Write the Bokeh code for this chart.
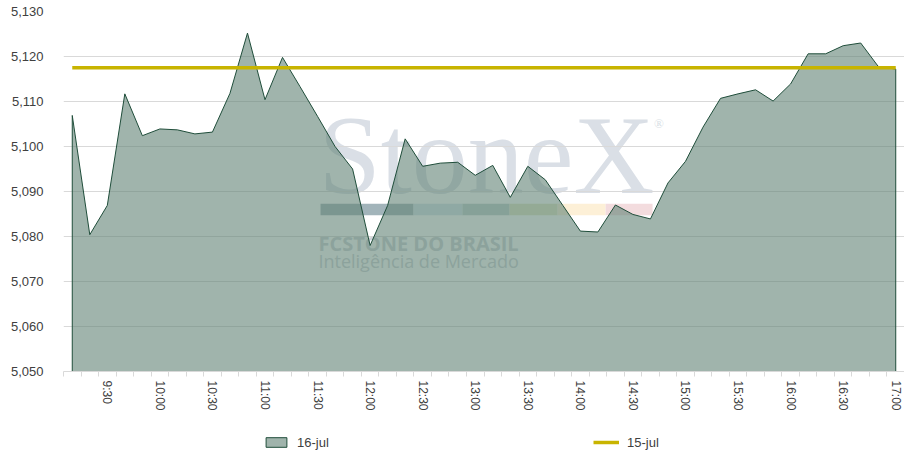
'''
dolar comercial intraday 16-jul vs fechamento 15-jul
'''
from bokeh.plotting import figure
from bokeh.layouts import column
from bokeh.models import (Range1d, FixedTicker, SingleIntervalTicker,
                          NumeralTickFormatter, Legend, LegendItem, Label, BoxAnnotation)
from bokeh.embed import file_html
from bokeh.resources import INLINE

times = ["9:10", "9:20", "9:30", "9:40", "9:50",
         "10:00", "10:10", "10:20", "10:30", "10:40", "10:50",
         "11:00", "11:10", "11:20", "11:30", "11:40", "11:50",
         "12:00", "12:10", "12:20", "12:30", "12:40", "12:50",
         "13:00", "13:10", "13:20", "13:30", "13:40", "13:50",
         "14:00", "14:10", "14:20", "14:30", "14:40", "14:50",
         "15:00", "15:10", "15:20", "15:30", "15:40", "15:50",
         "16:00", "16:10", "16:20", "16:30", "16:40", "16:50",
         "17:00"]

jul16 = [5106.9, 5080.4, 5086.9, 5111.7, 5102.4,
         5103.9, 5103.7, 5102.8, 5103.2, 5111.8, 5125.2,
         5110.4, 5119.8, 5113.3, 5106.7, 5100.0, 5095.0,
         5078.0, 5086.9, 5101.7, 5095.6, 5096.3, 5096.5,
         5093.6, 5095.8, 5088.7, 5095.6, 5092.6, 5086.9,
         5081.2, 5081.0, 5087.0, 5084.9, 5083.9, 5091.9,
         5096.7, 5104.3, 5110.7, 5111.7, 5112.6, 5110.1,
         5113.9, 5120.6, 5120.6, 5122.4, 5123.0, 5117.8,
         5117.2]

jul15_close = 5117.5

tick_labels = ["9:30", "10:00", "10:30", "11:00", "11:30", "12:00", "12:30", "13:00",
               "13:30", "14:00", "14:30", "15:00", "15:30", "16:00", "16:30", "17:00"]

y_min, y_max = 5050, 5130

FONT = "Liberation Sans"
TXT = "#404040"
GRID = "#d9d9d9"
FILL = "#618275"
LINE = "#1f4d3a"
YELLOW = "#c8b400"

# cada horario ocupa uma faixa de largura 1, o ponto fica no meio
xs = [i + 0.5 for i in range(len(times))]

fig = figure(width=904, height=413, x_range=Range1d(0, len(times)), y_range=Range1d(y_min, y_max),
             toolbar_location=None, output_backend="svg",
             min_border_left=63, min_border_right=0, min_border_top=11, min_border_bottom=42)
fig.outline_line_color = None
fig.xgrid.grid_line_color = None
fig.ygrid.grid_line_color = GRID

# marca d'agua
wm_col = "#dadfe6"
wm_txt = "#cdd2d7"
fig.add_layout(Label(x=14.55, y=5098.2, text="StoneX", text_font="Liberation Serif", text_baseline="alphabetic",
                     text_font_size="112px", text_color=wm_col, level="image"))
fig.add_layout(Label(x=33.7, y=5105.1, text="®", text_font="Liberation Serif", text_baseline="alphabetic",
                     text_font_size="13px", text_color=wm_col, level="image"))
barras = [(14.67, 19.98, "#a2b4ba"), (19.98, 22.77, "#d4e4ea"), (22.77, 25.46, "#bfcfcc"),
          (25.46, 28.2, "#e2e6c6"), (28.2, 30.94, "#fdf0d7"), (30.94, 33.62, "#f3dcde")]
for l, r, c in barras:
    fig.add_layout(BoxAnnotation(left=l, right=r, bottom=5084.7, top=5087.3,
                                 fill_color=c, fill_alpha=1, line_color=None, level="image"))
fig.add_layout(Label(x=14.55, y=5078.4, text="FCSTONE DO BRASIL", text_font="Open Sans", text_baseline="alphabetic",
                     text_font_style="bold", text_font_size="20px", text_color=wm_txt, level="image"))
fig.add_layout(Label(x=14.55, y=5074.6, text="Inteligência de Mercado", text_font="Open Sans", text_baseline="alphabetic",
                     text_font_size="18px", text_color=wm_txt, level="image"))

fig.patch(x=[xs[0]] + xs + [xs[-1]], y=[y_min] + jul16 + [y_min],
          fill_color=FILL, fill_alpha=0.6, line_color=LINE, line_width=1)
fig.line(x=xs, y=[jul15_close] * len(times), line_color=YELLOW, line_width=3.5)

fig.yaxis.ticker = SingleIntervalTicker(interval=10)
fig.yaxis.formatter = NumeralTickFormatter(format="0,0")
fig.yaxis.axis_line_color = None
fig.yaxis.major_tick_line_color = None
fig.yaxis.minor_tick_line_color = None
fig.yaxis.major_label_standoff = 14
fig.yaxis.major_label_text_font = FONT
fig.yaxis.major_label_text_font_size = "13px"
fig.yaxis.major_label_text_color = TXT

pos = {xs[times.index(t)]: t for t in tick_labels}
xaxis = fig.xaxis[0]
xaxis.ticker = FixedTicker(ticks=list(pos.keys()), minor_ticks=list(range(len(times) + 1)))
xaxis.major_label_overrides = pos
xaxis.major_label_orientation = "vertical"
xaxis.major_tick_line_color = None
xaxis.major_tick_out = 0
xaxis.major_tick_in = 0
xaxis.minor_tick_line_color = GRID
xaxis.minor_tick_out = 5
xaxis.minor_tick_in = 0
xaxis.axis_line_color = GRID
xaxis.major_label_standoff = 4
xaxis.major_label_text_font = FONT
xaxis.major_label_text_font_size = "12px"
xaxis.major_label_text_color = TXT

# faixa da legenda embaixo (legenda em painel lateral quebra o layout aqui)
# os glifos de amostra ficam fora do intervalo visivel, so servem para a legenda
leg = figure(width=904, height=43, x_range=Range1d(0, 1), y_range=Range1d(0, 1),
             x_axis_location=None, y_axis_location=None, toolbar_location=None,
             output_backend="svg", min_border=0)
leg.outline_line_color = None
leg.grid.visible = False
r_area = leg.patch(x=[5, 6, 6], y=[5, 5, 6], fill_color=FILL, fill_alpha=0.6, line_color=LINE, line_width=1)
r_linha = leg.line(x=[5, 6], y=[5, 5], line_color=YELLOW, line_width=3.5)
legenda = Legend(items=[LegendItem(label="16-jul", renderers=[r_area]),
                        LegendItem(label="15-jul", renderers=[r_linha])],
                 orientation="horizontal", location=(200, 6), spacing=0, label_width=296,
                 glyph_width=26, glyph_height=12, label_standoff=8, label_height=16,
                 label_text_font=FONT, label_text_font_size="13px", label_text_color=TXT,
                 border_line_color=None, background_fill_alpha=0, margin=0, padding=3)
leg.add_layout(legenda)

p = column(fig, leg, spacing=0)

open("out.html", "w").write(file_html(p, INLINE))
